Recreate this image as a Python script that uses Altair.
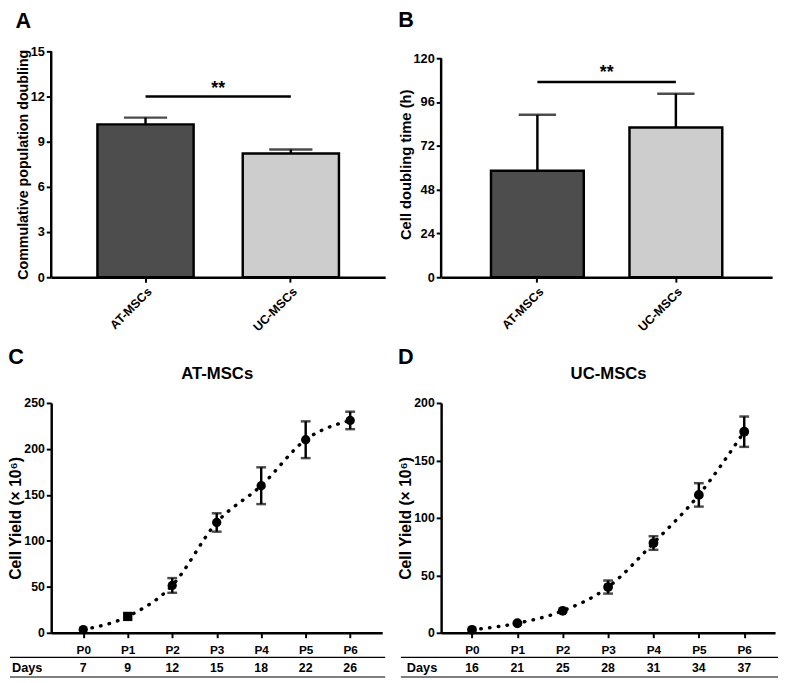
import altair as alt
import pandas as pd

FONT = "Liberation Sans"

# ---------------- data ----------------
groups = ["AT-MSCs", "UC-MSCs"]
cpd_mean = [10.15, 8.22]
cpd_sd = [0.45, 0.26]
cdt_mean = [58.4, 82.1]
cdt_sd = [30.6, 18.5]

passages = ["P0", "P1", "P2", "P3", "P4", "P5", "P6"]
at_days = [7, 9, 12, 15, 18, 22, 26]
at_yield = [3.5, 17.8, 51.5, 120.0, 160.0, 210.0, 231.0]
at_sd = [0, 0, 8.0, 10.0, 20.0, 20.0, 9.5]
uc_days = [16, 21, 25, 28, 31, 34, 37]
uc_yield = [2.6, 8.3, 19.1, 39.8, 78.1, 120.0, 175.0]
uc_sd = [0, 0, 0, 5.7, 5.9, 10.2, 13.2]

BAR_FILLS = ["#4d4d4d", "#cdcdcd"]


def bar_panel(letter, means, sds, ytitle, ymax, ystep, sig_y, star_y, w, h, dom_max,
              title_pad, title_size, p_in, p_out, letter_offset, cap_w):
    df = pd.DataFrame({
        "group": groups,
        "mean": means,
        "top": [m + s for m, s in zip(means, sds)],
    })
    sig_df = pd.DataFrame({"start": [groups[0]], "end": [groups[1]],
                           "y": [sig_y], "sy": [star_y], "label": ["**"]})
    ax_df = pd.DataFrame({"y0": [0], "y1": [ymax]})
    xscale = alt.Scale(domain=groups, paddingInner=p_in, paddingOuter=p_out)
    xaxis = alt.Axis(title=None, labelAngle=315, labelFontSize=12.5, labelPadding=3)
    yscale = alt.Scale(domain=[0, dom_max], nice=False)
    yaxis = alt.Axis(values=list(range(0, ymax + 1, ystep)), title=ytitle, domain=False,
                     titlePadding=title_pad, labelPadding=2, labelFontSize=13,
                     titleFontSize=title_size)

    def X(field):
        return alt.X(f"{field}:N", scale=xscale, axis=xaxis)

    def Y(field):
        return alt.Y(f"{field}:Q", scale=yscale, axis=yaxis)

    base = alt.Chart(df)
    bars = base.mark_bar(stroke="black", strokeWidth=2.5).encode(
        x=X("group"), y=Y("mean"),
        fill=alt.Fill("group:N", scale=alt.Scale(domain=groups, range=BAR_FILLS), legend=None),
    )
    err = base.mark_rule(color="black", strokeWidth=2.5).encode(
        x=X("group"), y=Y("mean"), y2="top:Q")
    cap = base.mark_tick(color="black", size=cap_w, thickness=2.5).encode(
        x=X("group"), y=Y("top"))
    sig = alt.Chart(sig_df).mark_rule(color="black", strokeWidth=2.5).encode(
        x=X("start"), x2="end:N", y=Y("y"))
    star = alt.Chart(sig_df).mark_text(font=FONT, fontSize=18, fontWeight="bold",
                                       baseline="alphabetic").encode(
        x=alt.value(w / 2), y=Y("sy"), text="label:N")
    yline = alt.Chart(ax_df).mark_rule(color="black", strokeWidth=2.5).encode(
        x=alt.value(0), y=Y("y0"), y2="y1:Q")
    return alt.layer(bars, err, cap, sig, star, yline).properties(
        width=w, height=h,
        title=alt.TitleParams(letter, anchor="start", frame="bounds", fontSize=22,
                              font=FONT, fontWeight="bold", color="black",
                              offset=letter_offset),
    )


def line_panel(letter, name, yields, sds, days, ymax, w, h, pad, square_p1, pt_size,
               rule_x0, rule_x1, lab_x):
    df = pd.DataFrame({
        "passage": passages,
        "yield": yields,
        "lo": [v - s for v, s in zip(yields, sds)],
        "hi": [v + s for v, s in zip(yields, sds)],
        "sd": sds,
        "days": [str(d) for d in days],
    })
    xscale = alt.Scale(type="point", domain=passages, padding=pad)
    yscale = alt.Scale(domain=[0, ymax], nice=False)
    yaxis = alt.Axis(values=list(range(0, ymax + 1, 50)), title="Cell Yield (× 10⁶)",
                     titleFontSize=16, titlePadding=0, labelPadding=2, labelFontSize=12.5)
    bottom_axis = alt.Axis(title=None, labelAngle=0, labelFontSize=12, labelPadding=7)
    top_axis = alt.Axis(orient="top", title=name, labels=False, ticks=False, domain=False,
                        titleFontSize=17, titlePadding=21)

    def Y(field):
        return alt.Y(f"{field}:Q", scale=yscale, axis=yaxis)

    def Xn(axis):
        return alt.X("passage:N", scale=xscale, axis=axis)

    base = alt.Chart(df)
    line = base.mark_line(interpolate="monotone", color="black", strokeWidth=3.5,
                          strokeDash=[0.5, 8.5], strokeCap="round").encode(
        x=Xn(bottom_axis), y=Y("yield"))
    if square_p1:
        shape = alt.condition(alt.datum.passage == "P1", alt.value("square"), alt.value("circle"))
    else:
        shape = alt.value("circle")
    pts = base.mark_point(filled=True, opacity=1, color="black", size=pt_size).encode(
        x=Xn(top_axis), y=Y("yield"), shape=shape)
    eb = base.transform_filter(alt.datum.sd > 0)
    err = eb.mark_rule(color="black", strokeWidth=2.5).encode(
        x=Xn(None), y=Y("lo"), y2="hi:Q")
    cap_lo = eb.mark_tick(color="black", size=10, thickness=2.5).encode(
        x=Xn(None), y=Y("lo"))
    cap_hi = eb.mark_tick(color="black", size=10, thickness=2.5).encode(
        x=Xn(None), y=Y("hi"))
    day_txt = base.mark_text(font=FONT, fontSize=12.5, fontWeight="bold", color="black",
                             baseline="middle").encode(
        x=Xn(None), y=alt.value(h + 36), text="days:N")
    lab_df = pd.DataFrame({"label": ["Days"]})
    day_lab = alt.Chart(lab_df).mark_text(font=FONT, fontSize=13, fontWeight="bold",
                                          color="black", align="left", baseline="middle").encode(
        x=alt.value(lab_x), y=alt.value(h + 36), text="label:N")
    rule1 = alt.Chart(lab_df).mark_rule(color="black", strokeWidth=1.2).encode(
        x=alt.value(rule_x0), x2=alt.value(rule_x1), y=alt.value(h + 25))
    rule2 = alt.Chart(lab_df).mark_rule(color="black", strokeWidth=1.2).encode(
        x=alt.value(rule_x0), x2=alt.value(rule_x1), y=alt.value(h + 45))
    return alt.layer(line, err, cap_lo, cap_hi, pts, day_txt, day_lab, rule1, rule2).resolve_axis(
        x="independent").properties(
        width=w, height=h,
        title=alt.TitleParams(letter, anchor="start", frame="bounds", fontSize=22,
                              font=FONT, fontWeight="bold", color="black", offset=-4),
    )


A = bar_panel("A", cpd_mean, cpd_sd, "Commulative population doubling", 15, 3, 12, 12.2,
              340, 230, 15, 0, 14.5, 0.338, 0.318, 13, 44)
B = bar_panel("B", cdt_mean, cdt_sd, "Cell doubling time (h)", 120, 24, 107, 109.3,
              337, 230, 123.8, 0, 15, 0.33, 0.36, 20, 38)
C = line_panel("C", "AT-MSCs", at_yield, at_sd, at_days, 250, 337, 234, 0.72, True, 90,
               -42, 340, -40)
D = line_panel("D", "UC-MSCs", uc_yield, uc_sd, uc_days, 200, 340, 234, 0.68, False, 100,
               -41, 343, -35)

chart = alt.concat(A, B, C, D, columns=2, align="none", bounds="flush",
                   spacing={"row": 128, "column": 57}).properties(
    padding={"top": -5, "left": 0, "right": 0, "bottom": 0}
).configure_axis(
    domainColor="black", domainWidth=2.5, tickColor="black", tickWidth=2, tickSize=5,
    labelFont=FONT, labelFontWeight="bold", labelColor="black", labelFontSize=11,
    titleFont=FONT, titleFontWeight="bold", titleColor="black", titleFontSize=14, grid=False,
).configure_view(stroke=None)

chart.save("out.html", embed_options={"renderer": "svg", "actions": False})
